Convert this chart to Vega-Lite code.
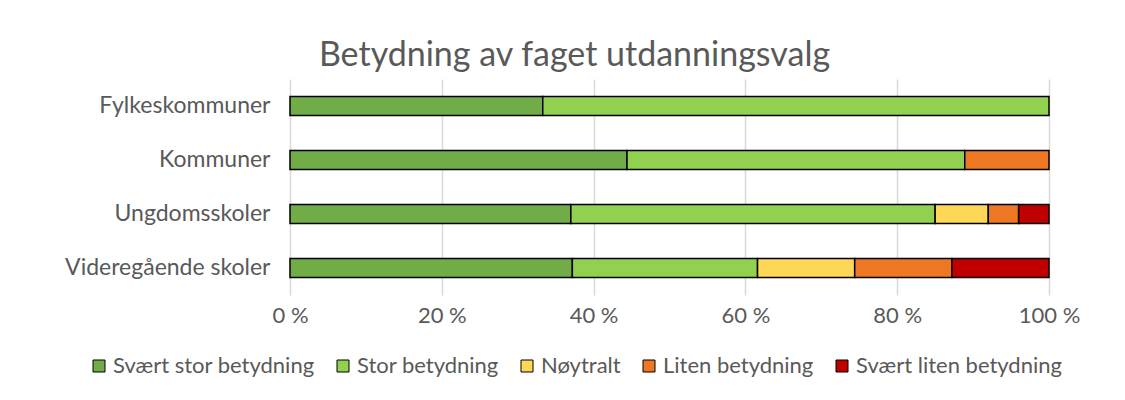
{
  "$schema": "https://vega.github.io/schema/vega-lite/v6.json",
  "width": 759,
  "height": 216,
  "autosize": {"type": "none"},
  "padding": {"left": 290, "top": 79, "right": 76, "bottom": 105},
  "background": "white",
  "title": {
    "text": "Betydning av faget utdanningsvalg",
    "font": "Lato",
    "fontSize": 34,
    "fontWeight": "normal",
    "color": "#595959",
    "anchor": "middle",
    "dx": -95,
    "offset": 6
  },
  "data": {
    "values": [
      {"skole": "Fylkeskommuner", "svar": "Svært stor betydning", "o": 1, "andel": 33.3},
      {"skole": "Fylkeskommuner", "svar": "Stor betydning", "o": 2, "andel": 66.7},
      {"skole": "Kommuner", "svar": "Svært stor betydning", "o": 1, "andel": 44.4},
      {"skole": "Kommuner", "svar": "Stor betydning", "o": 2, "andel": 44.5},
      {"skole": "Kommuner", "svar": "Liten betydning", "o": 4, "andel": 11.1},
      {"skole": "Ungdomsskoler", "svar": "Svært stor betydning", "o": 1, "andel": 37},
      {"skole": "Ungdomsskoler", "svar": "Stor betydning", "o": 2, "andel": 48},
      {"skole": "Ungdomsskoler", "svar": "Nøytralt", "o": 3, "andel": 7},
      {"skole": "Ungdomsskoler", "svar": "Liten betydning", "o": 4, "andel": 4},
      {"skole": "Ungdomsskoler", "svar": "Svært liten betydning", "o": 5, "andel": 4},
      {"skole": "Videregående skoler", "svar": "Svært stor betydning", "o": 1, "andel": 37.2},
      {"skole": "Videregående skoler", "svar": "Stor betydning", "o": 2, "andel": 24.4},
      {"skole": "Videregående skoler", "svar": "Nøytralt", "o": 3, "andel": 12.8},
      {"skole": "Videregående skoler", "svar": "Liten betydning", "o": 4, "andel": 12.8},
      {"skole": "Videregående skoler", "svar": "Svært liten betydning", "o": 5, "andel": 12.8}
    ]
  },
  "mark": {"type": "bar", "stroke": "black", "strokeWidth": 1.5},
  "encoding": {
    "y": {
      "field": "skole",
      "type": "nominal",
      "sort": ["Fylkeskommuner", "Kommuner", "Ungdomsskoler", "Videregående skoler"],
      "scale": {"paddingInner": 0.65, "paddingOuter": 0.325},
      "axis": {
        "title": null,
        "domain": false,
        "ticks": false,
        "labelFont": "Lato",
        "labelFontSize": 23,
        "labelColor": "#595959",
        "labelPadding": 20,
        "labelLimit": 400
      }
    },
    "x": {
      "field": "andel",
      "type": "quantitative",
      "stack": "zero",
      "scale": {"domain": [0, 100], "nice": false},
      "axis": {
        "title": null,
        "values": [0, 20, 40, 60, 80, 100],
        "labelExpr": "datum.value + ' %'",
        "labelFlush": false,
        "domain": false,
        "ticks": false,
        "grid": true,
        "gridColor": "#d9d9d9",
        "gridWidth": 1.5,
        "labelFont": "Lato",
        "labelFontSize": 22,
        "labelColor": "#595959",
        "labelPadding": 10
      }
    },
    "order": {"field": "o", "type": "quantitative"},
    "fill": {
      "field": "svar",
      "type": "nominal",
      "scale": {
        "domain": ["Svært stor betydning", "Stor betydning", "Nøytralt", "Liten betydning", "Svært liten betydning"],
        "range": ["#70ad47", "#92d050", "#ffd757", "#ed7722", "#c00000"]
      },
      "legend": {
        "title": null,
        "orient": "none",
        "direction": "horizontal",
        "legendX": -202,
        "legendY": 276,
        "symbolType": "square",
        "symbolSize": 144,
        "symbolStrokeColor": "black",
        "symbolStrokeWidth": 1,
        "labelFont": "Lato",
        "labelFontSize": 22,
        "labelColor": "#595959",
        "labelOffset": 3,
        "labelLimit": 400,
        "columnPadding": 17
      }
    }
  },
  "config": {"view": {"stroke": null}}
}
